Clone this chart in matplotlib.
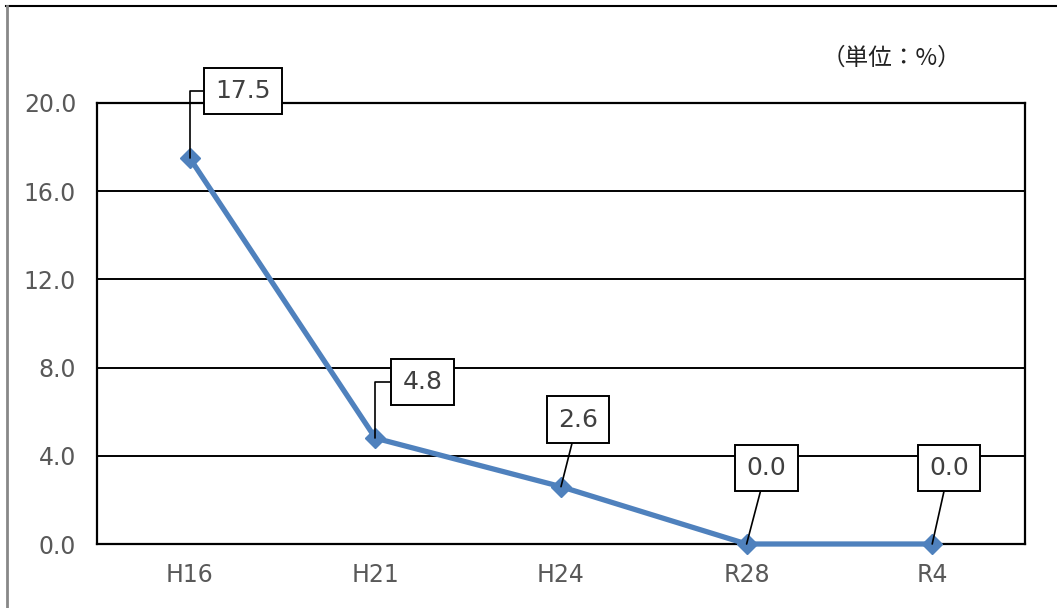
import matplotlib.pyplot as plt
from matplotlib.lines import Line2D

plt.rcParams['font.family'] = ['DejaVu Sans', 'Noto Sans CJK JP']

# data
years = ['H16', 'H21', 'H24', 'R28', 'R4']
rates = [17.5, 4.8, 2.6, 0.0, 0.0]
y_ticks = [0, 4, 8, 12, 16, 20]

# label box offsets from each point (pixels)
label_offsets = [(53, 67), (47, 56), (17, 67), (20, 76), (17, 76)]
elbow = [True, True, False, False, False]

fig = plt.figure(figsize=(10.57, 6.08), dpi=100)
ax = fig.add_axes([97 / 1057, 64 / 608, 928 / 1057, 441 / 608])

x = list(range(len(years)))
ax.plot(x, rates, color='#4F81BD', linewidth=3.8, marker='D', markersize=10,
        zorder=3, clip_on=False)

ax.set_xlim(-0.5, len(years) - 0.5)
ax.set_ylim(0, 20)
ax.set_yticks(y_ticks)
ax.set_yticklabels([f'{v:.1f}' for v in y_ticks])
ax.set_xticks(x)
ax.set_xticklabels(years)
ax.tick_params(axis='both', length=0, labelsize=17, colors='#595959')
ax.tick_params(axis='y', pad=15)
ax.tick_params(axis='x', pad=14)

ax.grid(axis='y', color='black', linewidth=1.4, zorder=1)
for s in ax.spines.values():
    s.set_linewidth(1.6)
    s.set_color('black')

for xi, v, (dx, dy), el in zip(x, rates, label_offsets, elbow):
    conn = 'angle,angleA=0,angleB=90,rad=0' if el else 'arc3,rad=0'
    ax.annotate(f'{v:.1f}', xy=(xi, v), xytext=(dx * 0.72, dy * 0.72),
                textcoords='offset points', ha='center', va='center',
                fontsize=18, color='#404040', zorder=5,
                bbox=dict(boxstyle='square,pad=0.45', fc='white', ec='black', lw=1.4),
                arrowprops=dict(arrowstyle='-', color='black', lw=1.2,
                                connectionstyle=conn, shrinkA=0, shrinkB=0))

fig.text(891 / 1057, 1 - 58 / 608, '（単位：%）', ha='center', va='center',
         fontsize=17, color='#222222', family=['Noto Sans CJK JP', 'DejaVu Sans'])

# outer frame of the original chart
fig.add_artist(Line2D([6 / 1057, 1], [1 - 6 / 608, 1 - 6 / 608], color='black', lw=1.5))
fig.add_artist(Line2D([6.5 / 1057, 6.5 / 1057], [0, 1 - 6 / 608], color='#888888', lw=2))

fig.savefig('out.png', dpi=100)
